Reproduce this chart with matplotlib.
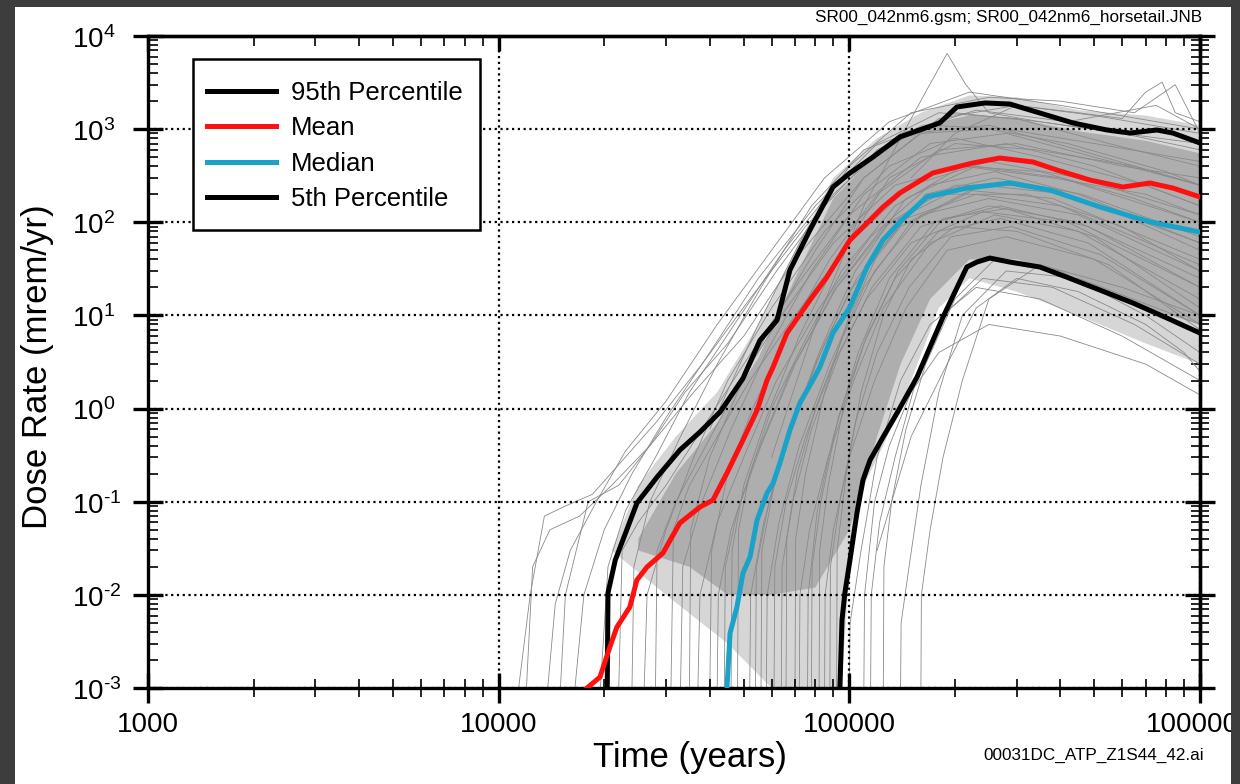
import matplotlib
matplotlib.use("Agg")
import matplotlib.pyplot as plt
import matplotlib.transforms as mtransforms
from matplotlib.patches import Rectangle
from matplotlib.ticker import LogLocator, FixedLocator, FixedFormatter, NullFormatter

plt.rcParams["font.family"] = ["Liberation Sans", "DejaVu Sans"]
plt.rcParams["mathtext.fontset"] = "custom"
plt.rcParams["mathtext.rm"] = "Liberation Sans"
plt.rcParams["mathtext.it"] = "Liberation Sans:italic"
plt.rcParams["mathtext.bf"] = "Liberation Sans:bold"

# percentile curves (years, mrem/yr)
p95_t = [20400, 20500, 21500, 24800, 28300, 32900, 37500, 42800, 49700, 55600, 62200,
         67700, 77200, 89800, 100400, 116800, 139300, 181000, 202600, 243600, 287000,
         349400, 434300, 543000, 631000, 754000, 837000, 1000000]
p95_d = [0.001, 0.0105, 0.0236, 0.097, 0.184, 0.36, 0.56, 0.92, 2.1, 5.4, 8.9,
         30.7, 82.6, 239, 338, 502, 824, 1165, 1730, 1910, 1860,
         1490, 1165, 979, 908, 979, 908, 710]

mean_t = [17860, 19450, 20750, 21730, 23660, 24780, 26480, 29400, 32860, 37490, 40830,
          44770, 49730, 54560, 58250, 60600, 66400, 77200, 86300, 100400, 112300,
          124800, 139300, 172900, 224800, 268600, 333900, 391000, 485700, 602600,
          719800, 837000, 1000000]
mean_d = [0.001, 0.00131, 0.00275, 0.0045, 0.0074, 0.0144, 0.0199, 0.0281, 0.059, 0.0877, 0.104,
          0.203, 0.459, 0.96, 2.02, 2.79, 6.47, 14.6, 25.8, 64.5, 98,
          146, 206, 338, 433, 490, 444, 364, 284, 239,
          264, 233, 187]

med_t = [44770, 45700, 47800, 49730, 52100, 54560, 58250, 60600, 63400, 67700, 72300,
         78700, 82400, 89800, 100400, 112300, 124800, 139300, 166300, 216300, 287000,
         373300, 518700, 719800, 1000000]
med_d = [0.001, 0.00389, 0.0074, 0.0171, 0.0255, 0.0635, 0.124, 0.158, 0.26, 0.588, 1.15,
         2.02, 2.79, 6.47, 12.3, 33.1, 64.6, 101, 187, 233, 264,
         222, 146, 101, 78.5]

p05_t = [94000, 95300, 97100, 100400, 105100, 109400, 114600, 124800, 136800, 156000,
         185000, 216300, 231000, 251500, 287000, 349400, 416500, 518700, 644000, 805000, 1000000]
p05_d = [0.001, 0.00536, 0.0104, 0.0236, 0.0755, 0.171, 0.28, 0.494, 0.895, 2.18,
         9.6, 33.1, 37.4, 41.3, 37.4, 33.1, 25.8, 18.7, 13.6, 9.38, 6.47]

# outline of the medium-density part of the horsetail
band_top_t = [21000, 25000, 32000, 42000, 55000, 70000, 90000, 120000, 160000, 220000,
              300000, 450000, 700000, 1000000]
band_top_d = [0.03, 0.15, 0.5, 1.5, 8, 50, 300, 800, 1500, 2300, 2200, 1600, 1400, 1100]
band_bot_t = [1000000, 700000, 450000, 300000, 220000, 180000, 150000, 125000, 110000,
              100000, 95000, 80000, 60000, 45000, 30000, 21000]
band_bot_d = [3, 5, 10, 18, 25, 12, 2, 0.4, 0.15, 0.02, 0.001, 0.001, 0.001, 0.003, 0.01, 0.03]

# outline of the dense core
core_top_t = [25000, 32000, 42000, 55000, 70000, 90000, 120000, 160000, 220000, 300000,
              450000, 700000, 1000000]
core_top_d = [0.04, 0.2, 0.7, 3.5, 25, 180, 550, 1100, 1400, 1300, 950, 750, 550]
core_bot_t = [1000000, 700000, 450000, 300000, 220000, 170000, 140000, 120000, 100000,
              80000, 60000, 45000, 35000, 25000]
core_bot_d = [8, 12, 25, 40, 40, 15, 3, 0.5, 0.05, 0.012, 0.01, 0.01, 0.02, 0.03]

# individual realizations
real_t = [
    [11400, 12300, 13500, 15500, 18500, 22000, 28000, 38000, 52000, 75000, 120000, 200000, 350000, 600000, 1000000],
    [13800, 14500, 16000, 19000, 23000, 30000, 42000, 60000, 85000, 130000, 220000, 400000, 1000000],
    [16500, 17500, 20000, 24000, 30000, 40000, 55000, 80000, 120000, 180000, 300000, 550000, 1000000],
    [19500, 20500, 23000, 28000, 35000, 47000, 65000, 95000, 150000, 250000, 450000, 1000000],
    [22000, 22500, 25000, 30000, 38000, 50000, 70000, 100000, 160000, 280000, 500000, 1000000],
    [26000, 26500, 30000, 36000, 45000, 60000, 85000, 130000, 200000, 350000, 700000, 1000000],
    [31000, 31500, 35000, 42000, 52000, 70000, 100000, 150000, 250000, 450000, 1000000],
    [33000, 33500, 38000, 46000, 58000, 78000, 110000, 170000, 280000, 500000, 1000000],
    [37000, 37500, 42000, 50000, 62000, 82000, 115000, 170000, 260000, 450000, 1000000],
    [40000, 40500, 45000, 53000, 66000, 88000, 120000, 180000, 300000, 600000, 1000000],
    [44000, 44300, 48000, 56000, 70000, 92000, 130000, 200000, 330000, 600000, 1000000],
    [48000, 48300, 52000, 60000, 74000, 95000, 135000, 210000, 350000, 650000, 1000000],
    [52000, 52300, 57000, 66000, 80000, 100000, 140000, 220000, 380000, 1000000],
    [56000, 56300, 61000, 70000, 85000, 105000, 145000, 230000, 400000, 1000000],
    [61000, 61300, 66000, 75000, 90000, 112000, 150000, 240000, 420000, 1000000],
    [66000, 66300, 71000, 80000, 96000, 118000, 160000, 250000, 450000, 1000000],
    [72000, 72300, 77000, 87000, 103000, 125000, 170000, 260000, 450000, 1000000],
    [78000, 78300, 83000, 93000, 110000, 135000, 180000, 270000, 480000, 1000000],
    [85000, 85300, 90000, 100000, 118000, 145000, 190000, 280000, 500000, 1000000],
    [92000, 92300, 98000, 108000, 125000, 150000, 200000, 300000, 550000, 1000000],
    [100000, 100500, 108000, 120000, 140000, 170000, 230000, 350000, 600000, 1000000],
    [110000, 110500, 118000, 130000, 150000, 180000, 250000, 400000, 700000, 1000000],
    [125000, 125500, 132000, 145000, 165000, 200000, 260000, 400000, 700000, 1000000],
    [140000, 140500, 148000, 160000, 180000, 210000, 280000, 450000, 1000000],
    [160000, 160500, 170000, 185000, 210000, 250000, 350000, 600000, 1000000],
    [60000, 80000, 110000, 140000, 165000, 190000, 215000, 250000, 350000, 600000, 1000000],
    [150000, 200000, 300000, 450000, 600000, 700000, 780000, 850000, 1000000],
    [40000, 55000, 75000, 100000, 150000, 250000, 400000, 650000, 850000, 1000000],
    [12000, 12500, 14000, 17000, 21000, 27000, 36000, 50000, 70000, 110000, 180000, 300000, 500000, 1000000],
    [15000, 15500, 18000, 22000, 27000, 34000, 45000, 62000, 90000, 140000, 230000, 420000, 750000, 1000000],
    [24000, 24300, 27000, 33000, 42000, 56000, 78000, 110000, 170000, 280000, 500000, 1000000],
    [28000, 28300, 32000, 39000, 49000, 64000, 90000, 135000, 210000, 380000, 700000, 1000000],
    [35000, 35300, 40000, 48000, 60000, 80000, 110000, 160000, 250000, 420000, 800000, 1000000],
    [42000, 42300, 46000, 54000, 68000, 90000, 125000, 190000, 320000, 600000, 1000000],
    [46000, 46300, 50000, 58000, 72000, 94000, 130000, 200000, 340000, 650000, 1000000],
    [54000, 54300, 59000, 68000, 82000, 104000, 145000, 230000, 400000, 1000000],
    [58000, 58300, 63000, 72000, 88000, 110000, 150000, 240000, 420000, 1000000],
    [64000, 64300, 69000, 78000, 94000, 116000, 160000, 250000, 450000, 1000000],
    [70000, 70300, 75000, 85000, 100000, 122000, 165000, 260000, 460000, 1000000],
    [76000, 76300, 81000, 90000, 106000, 130000, 175000, 270000, 480000, 1000000],
    [82000, 82300, 87000, 96000, 112000, 138000, 185000, 280000, 500000, 1000000],
    [88000, 88300, 94000, 104000, 120000, 148000, 195000, 290000, 520000, 1000000],
    [115000, 115500, 122000, 135000, 155000, 185000, 240000, 380000, 650000, 1000000],
    [120000, 150000, 190000, 230000, 300000, 450000, 700000, 900000, 1000000],
]
real_d = [
    [0.001, 0.01, 0.07, 0.09, 0.12, 0.25, 0.7, 3, 15, 90, 600, 1500, 1200, 900, 700],
    [0.001, 0.008, 0.03, 0.1, 0.35, 1.2, 8, 50, 300, 1200, 2500, 1800, 1000],
    [0.001, 0.01, 0.05, 0.2, 0.8, 4, 25, 150, 700, 1500, 1300, 700, 400],
    [0.001, 0.02, 0.08, 0.3, 1.5, 8, 50, 300, 900, 1100, 600, 250],
    [0.001, 0.03, 0.06, 0.15, 0.6, 3, 20, 120, 500, 700, 400, 150],
    [0.001, 0.01, 0.05, 0.3, 2, 12, 80, 400, 800, 500, 250, 150],
    [0.001, 0.05, 0.15, 0.5, 2, 10, 60, 250, 450, 300, 120],
    [0.001, 0.02, 0.1, 0.6, 4, 30, 200, 700, 900, 500, 250],
    [0.001, 0.01, 0.06, 0.3, 2, 12, 70, 250, 350, 200, 60],
    [0.001, 0.03, 0.2, 1, 6, 40, 200, 600, 700, 400, 300],
    [0.001, 0.02, 0.08, 0.4, 3, 20, 100, 250, 250, 120, 50],
    [0.001, 0.05, 0.2, 1, 5, 30, 150, 400, 350, 180, 100],
    [0.001, 0.01, 0.06, 0.4, 3, 18, 90, 220, 180, 40],
    [0.001, 0.03, 0.15, 0.8, 5, 25, 110, 200, 150, 35],
    [0.001, 0.02, 0.1, 0.5, 3, 15, 60, 130, 100, 20],
    [0.001, 0.04, 0.2, 1, 6, 30, 120, 180, 120, 30],
    [0.001, 0.01, 0.05, 0.3, 2, 12, 60, 120, 80, 15],
    [0.001, 0.02, 0.1, 0.8, 5, 25, 80, 110, 60, 10],
    [0.001, 0.01, 0.05, 0.3, 2, 12, 50, 70, 40, 8],
    [0.001, 0.03, 0.2, 1.5, 10, 40, 90, 80, 35, 7],
    [0.001, 0.005, 0.03, 0.3, 2, 8, 20, 15, 6, 2],
    [0.001, 0.01, 0.1, 0.4, 1.5, 4, 8, 6, 3, 1.4],
    [0.001, 0.02, 0.1, 0.6, 3, 15, 40, 30, 10, 4],
    [0.001, 0.005, 0.02, 0.15, 1.5, 10, 30, 25, 8],
    [0.001, 0.01, 0.05, 0.3, 2, 15, 35, 20, 10],
    [0.3, 8, 150, 800, 2500, 6500, 3000, 1500, 1200, 900, 600],
    [300, 900, 1800, 1500, 1300, 2500, 3200, 1500, 1200],
    [0.6, 8, 80, 400, 1500, 2200, 2000, 1500, 3000, 900],
    [0.001, 0.02, 0.05, 0.07, 0.15, 0.4, 1.5, 6, 40, 300, 1300, 1800, 1400, 900],
    [0.001, 0.01, 0.1, 0.15, 0.4, 1.5, 5, 30, 200, 900, 1600, 1200, 1800, 1000],
    [0.001, 0.02, 0.1, 0.5, 3, 20, 150, 600, 1100, 1000, 700, 450],
    [0.001, 0.03, 0.1, 0.4, 2, 10, 60, 250, 400, 300, 200, 120],
    [0.001, 0.05, 0.3, 1.5, 8, 50, 300, 900, 1000, 700, 350, 250],
    [0.001, 0.01, 0.05, 0.3, 2.5, 18, 90, 200, 200, 90, 30],
    [0.001, 0.03, 0.15, 0.8, 6, 45, 300, 700, 600, 400, 250],
    [0.001, 0.02, 0.1, 0.6, 4, 30, 180, 400, 300, 100],
    [0.001, 0.01, 0.06, 0.4, 3, 20, 100, 250, 200, 60],
    [0.001, 0.02, 0.1, 0.6, 4, 20, 90, 150, 100, 25],
    [0.001, 0.04, 0.2, 1.5, 10, 50, 200, 300, 200, 70],
    [0.001, 0.01, 0.08, 0.5, 4, 25, 100, 150, 90, 20],
    [0.001, 0.03, 0.15, 1, 6, 30, 110, 140, 70, 12],
    [0.001, 0.02, 0.1, 0.7, 4, 20, 70, 90, 45, 10],
    [0.001, 0.01, 0.06, 0.3, 2, 10, 25, 20, 8, 3],
    [0.03, 0.5, 3, 12, 25, 18, 8, 4, 2.5],
]

x_ticks = [1000, 10000, 100000, 1000000]
x_labels = ["1000", "10000", "100000", "1000000"]
y_exps = [-3, -2, -1, 0, 1, 2, 3, 4]
y_ticks = [10.0 ** e for e in y_exps]

W, H = 1240, 784
AX_L, AX_R, AX_T, AX_B = 148, 1200, 36, 688

fig = plt.figure(figsize=(12.4, 7.84), dpi=100, facecolor="#3d3d3d")
fig.add_artist(Rectangle((15 / W, 0), (1231 - 15) / W, 777 / H,
                         transform=fig.transFigure, facecolor="white",
                         edgecolor="none", zorder=-5))

ax = fig.add_axes([AX_L / W, 1 - AX_B / H, (AX_R - AX_L) / W, (AX_B - AX_T) / H])
ax.set_facecolor("white")
ax.set_xscale("log")
ax.set_yscale("log")
ax.set_xlim(1000, 1000000)
ax.set_ylim(0.001, 10000)

# horsetail
ax.fill(band_top_t + band_bot_t, band_top_d + band_bot_d, color="#d6d6d6",
        lw=0, zorder=1)
ax.fill(core_top_t + core_bot_t, core_top_d + core_bot_d, color="#aeaeae",
        lw=0, zorder=1)
for t, d in zip(real_t, real_d):
    ax.plot(t, d, color="#8a8a8a", lw=0.6, zorder=2)

ax.plot(p95_t, p95_d, color="black", lw=3.6, zorder=4, label="95th Percentile")
ax.plot(mean_t, mean_d, color="#ff1010", lw=3.6, zorder=4, label="Mean")
ax.plot(med_t, med_d, color="#1aa3c8", lw=3.6, zorder=4, label="Median")
ax.plot(p05_t, p05_d, color="black", lw=3.6, zorder=4, label="5th Percentile")

ax.grid(True, which="major", color="black", linestyle=(0, (1, 1.6)), lw=1.6, zorder=3)
ax.set_axisbelow(False)

for s in ax.spines.values():
    s.set_linewidth(2.4)

ax.xaxis.set_major_locator(FixedLocator(x_ticks))
ax.xaxis.set_major_formatter(FixedFormatter(x_labels))
ax.xaxis.set_minor_locator(LogLocator(base=10, subs=range(2, 10)))
ax.xaxis.set_minor_formatter(NullFormatter())
ax.yaxis.set_major_locator(FixedLocator(y_ticks))
ax.yaxis.set_major_formatter(NullFormatter())
ax.yaxis.set_minor_locator(LogLocator(base=10, subs=range(2, 10), numticks=20))
ax.yaxis.set_minor_formatter(NullFormatter())

ax.tick_params(axis="x", which="major", direction="inout", length=22, width=2.4,
               labelsize=20, pad=6, top=False)
ax.tick_params(axis="x", which="minor", direction="inout", length=13, width=1.2, top=False)
ax.tick_params(axis="y", which="major", direction="inout", length=22, width=2.4, right=False)
ax.tick_params(axis="y", which="minor", direction="in", length=7, width=1.2, right=False)

# y tick labels, left aligned like the original
ylab_tr = mtransforms.blended_transform_factory(ax.transAxes, ax.transData) + \
    mtransforms.ScaledTranslation(0, -4 / 100, fig.dpi_scale_trans)
for e, v in zip(y_exps, y_ticks):
    ax.text(-(AX_L - 72) / (AX_R - AX_L), v, "$10^{\\text{%d}}$" % e, transform=ylab_tr,
            ha="left", va="center", fontsize=20, clip_on=False)

# top and right ticks
secx = ax.secondary_xaxis("top")
secx.xaxis.set_major_locator(FixedLocator(x_ticks))
secx.xaxis.set_minor_locator(LogLocator(base=10, subs=range(2, 10)))
secx.xaxis.set_major_formatter(NullFormatter())
secx.xaxis.set_minor_formatter(NullFormatter())
secx.tick_params(which="major", direction="in", length=11, width=2.4)
secx.tick_params(which="minor", direction="in", length=7, width=1.2)
secx.spines["top"].set_linewidth(2.4)

secy = ax.secondary_yaxis("right")
secy.yaxis.set_major_locator(FixedLocator(y_ticks))
secy.yaxis.set_minor_locator(LogLocator(base=10, subs=range(2, 10), numticks=20))
secy.yaxis.set_major_formatter(NullFormatter())
secy.yaxis.set_minor_formatter(NullFormatter())
secy.tick_params(which="major", direction="inout", length=22, width=2.4)
secy.tick_params(which="minor", direction="inout", length=13, width=1.2)
secy.spines["right"].set_linewidth(2.4)

ax.set_xlabel("Time (years)", fontsize=25)
ax.xaxis.set_label_coords((690 - AX_L) / (AX_R - AX_L), -(741 - AX_B) / (AX_B - AX_T))
ax.set_ylabel("Dose Rate (mrem/yr)", fontsize=25)
ax.yaxis.set_label_coords(-(AX_L - 54) / (AX_R - AX_L), (AX_B - 367) / (AX_B - AX_T))

# legend box drawn by hand so its padding matches
ax.add_patch(Rectangle(((193 - AX_L) / (AX_R - AX_L), (AX_B - 230) / (AX_B - AX_T)),
                       (480 - 193) / (AX_R - AX_L), (230 - 59) / (AX_B - AX_T),
                       transform=ax.transAxes, facecolor="white", edgecolor="black",
                       lw=1.8, zorder=5))
leg = ax.legend(loc="center left",
                bbox_to_anchor=((207 - AX_L) / (AX_R - AX_L), (AX_B - 146) / (AX_B - AX_T)),
                fontsize=18.5, frameon=False, handlelength=2.7,
                handletextpad=0.58, borderpad=0, labelspacing=0.45,
                borderaxespad=0)
leg.set_zorder(6)

fig.text(1202 / W, 1 - 17 / H, "SR00_042nm6.gsm; SR00_042nm6_horsetail.JNB",
         ha="right", va="center", fontsize=12.3)
fig.text(1204 / W, 1 - 755 / H, "00031DC_ATP_Z1S44_42.ai",
         ha="right", va="center", fontsize=12.3)

# dark border over the clipped last tick label
fig.add_artist(Rectangle((1231 / W, 0), 9 / W, 1, transform=fig.transFigure,
                         facecolor="#3d3d3d", edgecolor="none", zorder=20))

fig.savefig("out.png", dpi=100, facecolor=fig.get_facecolor())
